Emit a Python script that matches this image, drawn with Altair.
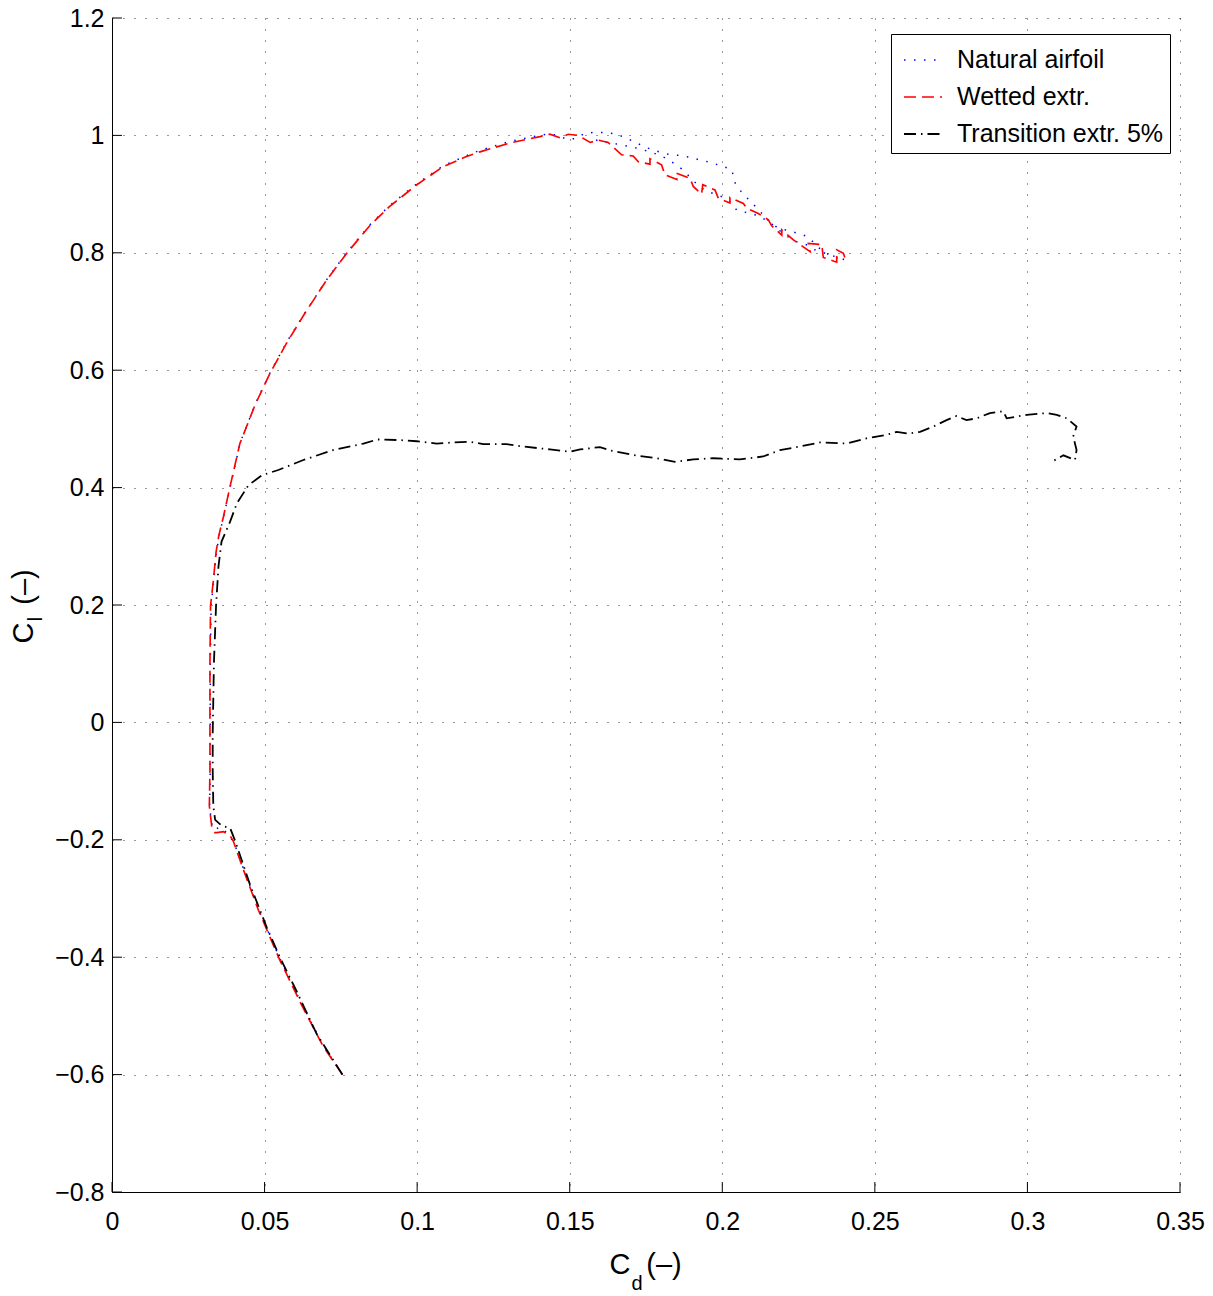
import altair as alt
import pandas as pd

# ---------------- data ----------------
series_names = ["Natural airfoil", "Wetted extr.", "Transition extr. 5%"]
series_colors = ["#0000ff", "#ff0000", "#000000"]

natural_cd = [0.0755, 0.0690, 0.0620, 0.0550, 0.0480, 0.0430, 0.0400, 0.0380, 0.0355, 0.0335,
              0.0325, 0.0320, 0.0322, 0.0322, 0.0322, 0.0325, 0.0334, 0.0343, 0.0352, 0.0367,
              0.0389, 0.0421, 0.0471, 0.0520, 0.0575, 0.0635, 0.0707, 0.0772, 0.0849, 0.0913,
              0.1000, 0.1088, 0.1164, 0.1208, 0.1306, 0.1400, 0.1424, 0.1457, 0.1492, 0.1523,
              0.1550, 0.1583, 0.1619, 0.1654, 0.1687, 0.1720, 0.1752, 0.1787, 0.1823, 0.1858,
              0.1892, 0.1927, 0.1963, 0.1996, 0.2031, 0.2042, 0.2066, 0.2094, 0.2121, 0.2149,
              0.2180, 0.2214, 0.2250, 0.2282, 0.2315, 0.2342, 0.2364, 0.2402, 0.2298, 0.2279,
              0.2244, 0.2206, 0.2160, 0.2120, 0.2083, 0.2047, 0.2022, 0.1989, 0.1954, 0.1924,
              0.1894, 0.1867, 0.1834, 0.1801, 0.1769, 0.1736, 0.1700, 0.1665, 0.1630, 0.1600,
              0.1561]
natural_cl = [-0.600, -0.548, -0.478, -0.402, -0.318, -0.248, -0.205, -0.190, -0.178, -0.183,
              -0.170, -0.140, -0.080, 0.005, 0.100, 0.200, 0.245, 0.293, 0.320, 0.353,
              0.405, 0.478, 0.544, 0.598, 0.650, 0.700, 0.757, 0.802, 0.850, 0.882,
              0.918, 0.949, 0.966, 0.975, 0.990, 1.000, 1.002, 1.001, 0.993, 0.995,
              1.004, 1.005, 1.005, 1.002, 0.995, 0.987, 0.979, 0.973, 0.968, 0.966,
              0.963, 0.958, 0.954, 0.948, 0.942, 0.919, 0.901, 0.887, 0.872, 0.856,
              0.843, 0.838, 0.833, 0.827, 0.809, 0.799, 0.793, 0.788, 0.806, 0.813,
              0.819, 0.830, 0.850, 0.863, 0.868, 0.873, 0.889, 0.898, 0.904, 0.913,
              0.929, 0.943, 0.955, 0.965, 0.971, 0.976, 0.981, 0.984, 0.988, 0.990,
              0.996]

wetted_cd = [0.0755, 0.0690, 0.0620, 0.0550, 0.0480, 0.0430, 0.0398, 0.0387, 0.0365, 0.0338,
             0.0327, 0.0319, 0.0321, 0.0321, 0.0321, 0.0323, 0.0332, 0.0341, 0.0350, 0.0365,
             0.0387, 0.0419, 0.0469, 0.0518, 0.0572, 0.0632, 0.0704, 0.0769, 0.0846, 0.0910,
             0.0999, 0.1086, 0.1162, 0.1206, 0.1304, 0.1403, 0.1435, 0.1468, 0.1495, 0.1528,
             0.1567, 0.1594, 0.1626, 0.1670, 0.1708, 0.1725, 0.1763, 0.1763, 0.1801, 0.1812,
             0.1851, 0.1848, 0.1894, 0.1905, 0.1932, 0.1936, 0.1976, 0.1987, 0.2025, 0.2025,
             0.2069, 0.2080, 0.2118, 0.2151, 0.2162, 0.2195, 0.2195, 0.2233, 0.2288, 0.2282,
             0.2326, 0.2331, 0.2375, 0.2375, 0.2397, 0.2404]
wetted_cl = [-0.600, -0.550, -0.480, -0.405, -0.320, -0.250, -0.203, -0.193, -0.186, -0.188,
             -0.178, -0.142, -0.081, 0.005, 0.101, 0.199, 0.241, 0.290, 0.318, 0.350,
             0.402, 0.475, 0.541, 0.595, 0.646, 0.697, 0.754, 0.799, 0.847, 0.879,
             0.916, 0.947, 0.964, 0.972, 0.987, 0.998, 1.002, 0.996, 1.002, 1.000,
             0.988, 0.992, 0.988, 0.967, 0.965, 0.955, 0.951, 0.960, 0.950, 0.933,
             0.925, 0.936, 0.927, 0.913, 0.900, 0.916, 0.907, 0.893, 0.885, 0.894,
             0.884, 0.876, 0.867, 0.856, 0.846, 0.830, 0.839, 0.822, 0.802, 0.816,
             0.814, 0.792, 0.784, 0.805, 0.799, 0.788]

transition_cd = [0.0755, 0.0671, 0.0605, 0.0551, 0.0507, 0.0452, 0.0403, 0.0387, 0.0360, 0.0338,
                 0.0332, 0.0330, 0.0330, 0.0334, 0.0341, 0.0349, 0.0359, 0.0387, 0.0409, 0.0447,
                 0.0491, 0.0545, 0.0627, 0.0725, 0.0824, 0.0870, 0.0940, 0.0999, 0.1064, 0.1120,
                 0.1173, 0.1217, 0.1293, 0.1348, 0.1435, 0.1501, 0.1534, 0.1599, 0.1643, 0.1725,
                 0.1785, 0.1845, 0.1905, 0.1971, 0.2058, 0.2134, 0.2189, 0.2255, 0.2320, 0.2408,
                 0.2473, 0.2539, 0.2572, 0.2610, 0.2648, 0.2692, 0.2735, 0.2768, 0.2800, 0.2834,
                 0.2877, 0.2921, 0.2932, 0.2997, 0.3063, 0.3096, 0.3129, 0.3161, 0.3150, 0.3161,
                 0.3156, 0.3118, 0.3080]
transition_cl = [-0.600, -0.531, -0.458, -0.401, -0.349, -0.276, -0.201, -0.180, -0.176, -0.166,
                 -0.142, -0.081, -0.020, 0.101, 0.199, 0.266, 0.308, 0.342, 0.373, 0.404,
                 0.421, 0.430, 0.447, 0.464, 0.475, 0.482, 0.481, 0.479, 0.475, 0.477,
                 0.478, 0.474, 0.474, 0.470, 0.465, 0.461, 0.465, 0.469, 0.462, 0.454,
                 0.450, 0.444, 0.448, 0.450, 0.448, 0.453, 0.464, 0.470, 0.477, 0.475,
                 0.484, 0.490, 0.495, 0.492, 0.495, 0.504, 0.515, 0.522, 0.515, 0.518,
                 0.527, 0.530, 0.518, 0.524, 0.527, 0.524, 0.518, 0.504, 0.487, 0.464,
                 0.447, 0.455, 0.444]

x_ticks = [0, 0.05, 0.1, 0.15, 0.2, 0.25, 0.3, 0.35]
y_ticks = [-0.8, -0.6, -0.4, -0.2, 0, 0.2, 0.4, 0.6, 0.8, 1.0, 1.2]

x_title_parts = ["C", "d", "(\u2013)"]
y_title_parts = ["C", "l", "(\u2013)"]

# ---------------- build table ----------------
rows = []
for name, cds, cls in [(series_names[0], natural_cd, natural_cl),
                       (series_names[1], wetted_cd, wetted_cl),
                       (series_names[2], transition_cd, transition_cl)]:
    for i, (a, b) in enumerate(zip(cds, cls)):
        rows.append({"cd": a, "cl": b, "series": name, "idx": i})
df = pd.DataFrame(rows)

FONT = "Liberation Sans Narrow, Liberation Sans, Arial, sans-serif"
W, H = 1068, 1174
FS = 25

xs = alt.Scale(domain=[0, 0.35], nice=False, zero=False)
ys = alt.Scale(domain=[-0.8, 1.2], nice=False, zero=False)

common_axis = dict(format="~g", title=None, grid=True, tickSize=0,
                   labelFont=FONT, labelFontSize=FS, labelColor="black",
                   domainColor="black", domainWidth=1, domainOpacity=1,
                   gridColor="#000000", gridOpacity=0.8, gridDash=[1, 10], gridWidth=1,
                   labelFlush=False)
x_axis = alt.Axis(values=x_ticks, labelPadding=17, **common_axis)
y_axis = alt.Axis(values=y_ticks, labelPadding=8, **common_axis)

legend = alt.Legend(title=None, orient="none", legendX=779, legendY=16,
                    symbolType="stroke", symbolSize=1444, symbolStrokeWidth=1.5,
                    labelFont=FONT, labelFontSize=FS, labelColor="black", labelLimit=400,
                    labelOffset=14, rowPadding=4, padding=6, strokeColor="black",
                    fillColor="white", symbolOffset=6)

lines = alt.Chart(df).mark_line(strokeCap="butt", strokeJoin="miter").encode(
    x=alt.X("cd:Q", scale=xs, axis=x_axis),
    y=alt.Y("cl:Q", scale=ys, axis=y_axis),
    color=alt.Color("series:N", scale=alt.Scale(domain=series_names, range=series_colors),
                    legend=legend),
    strokeDash=alt.StrokeDash("series:N",
                              scale=alt.Scale(domain=series_names,
                                              range=[[1.5, 8.5], [12, 6], [12, 5, 1.5, 5]]),
                              legend=legend),
    strokeWidth=alt.StrokeWidth("series:N",
                                scale=alt.Scale(domain=series_names, range=[1.5, 1.8, 1.5]),
                                legend=None),
    order=alt.Order("idx:Q"),
)

xtick_rules = alt.Chart(pd.DataFrame({"cd": x_ticks})).mark_rule(color="black", strokeWidth=1).encode(
    x=alt.X("cd:Q", scale=xs, axis=x_axis),
    y=alt.value(H), y2=alt.value(H - 10),
)
ytick_rules = alt.Chart(pd.DataFrame({"cl": y_ticks})).mark_rule(color="black", strokeWidth=1).encode(
    y=alt.Y("cl:Q", scale=ys, axis=y_axis),
    x=alt.value(0), x2=alt.value(10),
)


def label(text, x, y, size, angle=0):
    return alt.Chart(pd.DataFrame({"t": [text]})).mark_text(
        font=FONT, fontSize=size, color="black", align="center", baseline="middle", angle=angle
    ).encode(text="t:N", x=alt.value(x), y=alt.value(y))


titles = [
    label(x_title_parts[0], 508, 1247, 29),
    label(x_title_parts[1], 525, 1266, 20),
    label(x_title_parts[2], 552, 1247, 29),
    label(y_title_parts[0], -88, 615, 29, 270),
    label(y_title_parts[1], -76, 601, 20, 270),
    label(y_title_parts[2], -88, 569, 29, 270),
]

chart = alt.layer(lines, xtick_rules, ytick_rules, *titles).properties(
    width=W, height=H,
    padding={"left": 112, "top": 18, "right": 33, "bottom": 104},
    autosize=alt.AutoSizeParams(type="none"),
).configure_view(stroke=None)

chart.save("out.html", embed_options={"renderer": "svg", "actions": False})
